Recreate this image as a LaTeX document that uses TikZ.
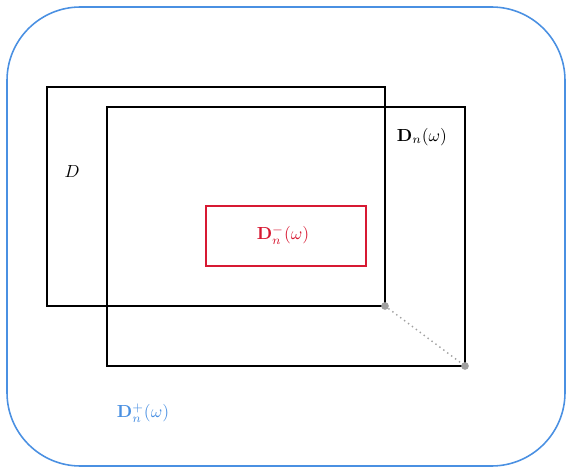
\documentclass[tikz,border=0pt]{standalone}
\usepackage{amsmath}
\definecolor{myblue}{RGB}{74,144,226}
\definecolor{myred}{RGB}{215,25,50}
\definecolor{mygray}{RGB}{160,160,160}
\begin{document}
\begin{tikzpicture}[x=0.5714pt,y=-0.5714pt,
  outerbox/.style={draw=myblue,line width=0.9pt,rounded corners=42pt},
  blackbox/.style={draw=black,line width=1pt},
  redbox/.style={draw=myred,line width=1pt},
  lbl/.style={inner sep=0pt},
  gdot/.style={circle,fill=mygray,inner sep=0pt,minimum size=4.4pt}]
\useasboundingbox (0,0) rectangle (572,473);
\draw[outerbox] (7,7) rectangle (565,466);
\draw[blackbox] (47,87) rectangle (385,306);
\draw[blackbox] (107,107) rectangle (465,366);
\draw[redbox] (206,206) rectangle (366,266);
\node[gdot] (p) at (385,306) {};
\node[gdot] (q) at (465,366) {};
\draw[mygray,dotted,line width=0.8pt] (p) -- (q);
\node[lbl] (dl) at (72,172) {$D$};
\node[lbl] (dn) at (422,137) {$\mathbf{D}_n(\omega)$};
\node[lbl,text=myred] (dm) at (283,235) {$\mathbf{D}_n^-(\omega)$};
\node[lbl,text=myblue] (dp) at (143,413) {$\mathbf{D}_n^+(\omega)$};
\end{tikzpicture}
\end{document}
